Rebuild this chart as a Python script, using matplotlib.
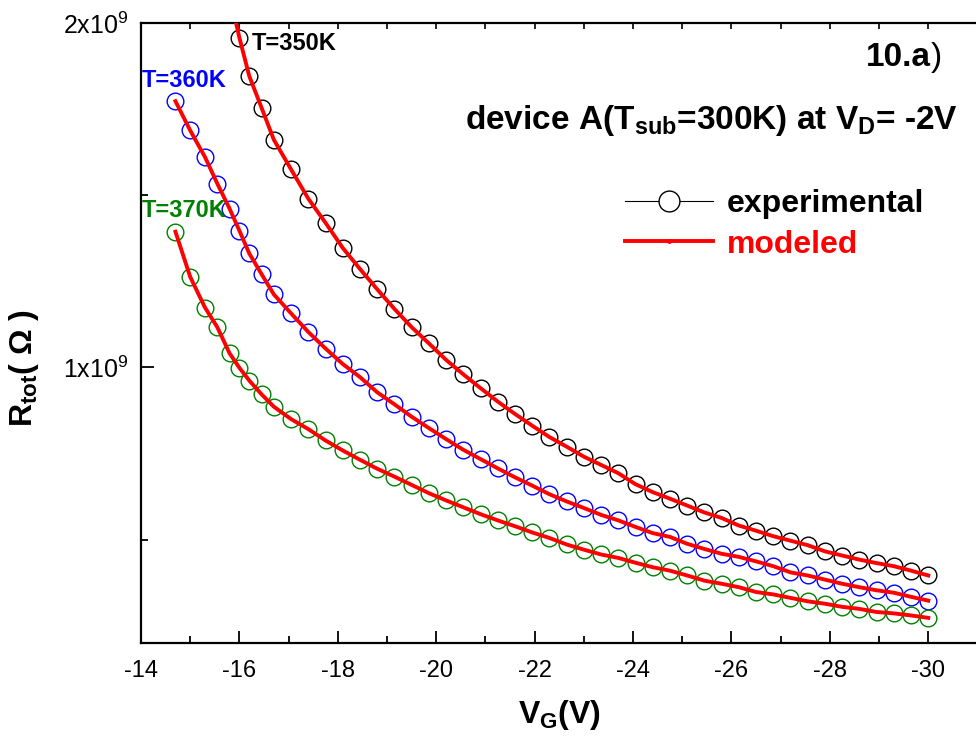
import matplotlib
matplotlib.use("Agg")
import matplotlib.pyplot as plt
from matplotlib.lines import Line2D
from matplotlib.ticker import FixedLocator, FuncFormatter
import numpy as np

plt.rcParams['font.family'] = ['Liberation Sans', 'DejaVu Sans']
plt.rcParams['mathtext.default'] = 'regular'

# ---------------- data ----------------
v_tail = [-16.7, -17.05, -17.4, -17.75, -18.1, -18.45, -18.8, -19.15, -19.5, -19.85,
          -20.2, -20.55, -20.9, -21.25, -21.6, -21.95, -22.3, -22.65, -23.0, -23.35,
          -23.7, -24.05, -24.4, -24.75, -25.1, -25.45, -25.8, -26.15, -26.5, -26.85,
          -27.2, -27.55, -27.9, -28.25, -28.6, -28.95, -29.3, -29.65, -30.0]
vg_350 = [-16.0, -16.2, -16.45] + v_tail
vg_360 = [-14.7, -15.0, -15.3, -15.55, -15.8, -16.0, -16.2, -16.45] + v_tail
vg_370 = [-14.7, -15.0, -15.3, -15.55, -15.8, -16.0, -16.2, -16.45] + v_tail

# R_tot in units of 1e9 Ohm
r_350 = [1.957, 1.846, 1.754, 1.661, 1.575, 1.490, 1.420, 1.347, 1.286, 1.227,
         1.170, 1.117, 1.070, 1.022, 0.980, 0.940, 0.901, 0.865, 0.831, 0.798,
         0.770, 0.741, 0.717, 0.693, 0.661, 0.638, 0.619, 0.599, 0.579, 0.563,
         0.541, 0.526, 0.510, 0.497, 0.484, 0.466, 0.454, 0.442, 0.432, 0.423,
         0.410, 0.396]
r_360 = [1.773, 1.688, 1.611, 1.534, 1.461, 1.397, 1.331, 1.271, 1.212, 1.157,
         1.103, 1.055, 1.010, 0.972, 0.928, 0.893, 0.857, 0.824, 0.792, 0.761,
         0.734, 0.707, 0.681, 0.657, 0.632, 0.611, 0.592, 0.572, 0.556, 0.537,
         0.519, 0.508, 0.488, 0.473, 0.459, 0.450, 0.437, 0.423, 0.405, 0.396,
         0.384, 0.372, 0.362, 0.353, 0.346, 0.334, 0.323]
r_370 = [1.394, 1.263, 1.174, 1.117, 1.041, 0.999, 0.962, 0.922, 0.886, 0.850,
         0.821, 0.788, 0.759, 0.732, 0.706, 0.683, 0.659, 0.635, 0.614, 0.594,
         0.574, 0.556, 0.539, 0.521, 0.505, 0.486, 0.471, 0.457, 0.447, 0.433,
         0.420, 0.410, 0.396, 0.381, 0.372, 0.362, 0.348, 0.341, 0.331, 0.321,
         0.314, 0.305, 0.299, 0.290, 0.286, 0.280, 0.273]

# modeled curves (red) follow the data; 350K fit continues above the frame
model_vg_350 = [-15.9] + vg_350
model_r_350 = [2.02] + r_350

series_colors = ['black', 'blue', 'green']
temp_labels = ['T=350K', 'T=360K', 'T=370K']

# ---------------- figure ----------------
W, H = 976, 747
fig = plt.figure(figsize=(W / 100, H / 100), dpi=100)
x0, x1, y0, y1 = 141, 976, 23, 643
ax = fig.add_axes([x0 / W, 1 - y1 / H, (x1 - x0) / W, (y1 - y0) / H])

def px(x, y):
    return x / W, 1 - y / H

sc = 1e9
exp_sets = [(vg_350, r_350), (vg_360, r_360), (vg_370, r_370)]
for (v, r), c in zip(exp_sets, series_colors):
    ax.plot(v, np.array(r) * sc, ls='none', marker='o', ms=12, mfc='none',
            mec=c, mew=1.0, zorder=2, clip_on=False)

model_sets = [(model_vg_350, model_r_350), (vg_360, r_360), (vg_370, r_370)]
for v, r in model_sets:
    ax.plot(v, np.array(r) * sc, color='red', lw=2.8, zorder=3)

ax.set_xlim(-14, -30.97)
ax.set_ylim(0.2e9, 2.0e9)

ax.xaxis.set_major_locator(FixedLocator([-14, -16, -18, -20, -22, -24, -26, -28, -30]))
ax.xaxis.set_minor_locator(FixedLocator([-15, -17, -19, -21, -23, -25, -27, -29]))
ax.yaxis.set_major_locator(FixedLocator([1e9, 2e9]))
ax.yaxis.set_minor_locator(FixedLocator([0.5e9, 1.5e9]))
ax.yaxis.set_major_formatter(FuncFormatter(lambda v, p: f"{int(round(v / 1e9))}x10$^9$"))
ax.xaxis.set_major_formatter(FuncFormatter(lambda v, p: f"{int(v)}"))

ax.tick_params(axis='x', which='major', direction='in', length=9, width=1.3,
               labelsize=17, pad=12, top=False)
ax.tick_params(axis='x', which='minor', direction='in', length=5, width=1.3, top=False)
ax.tick_params(axis='y', which='major', direction='in', length=9, width=1.3,
               labelsize=18, pad=9, right=False)
ax.tick_params(axis='y', which='minor', direction='in', length=5, width=1.3, right=False)

# top axis short ticks every 1 V
sec = ax.secondary_xaxis('top')
sec.xaxis.set_major_locator(FixedLocator(list(range(-14, -31, -1))))
sec.tick_params(direction='in', length=4, width=1.2, labeltop=False)
sec.spines['top'].set_visible(False)

for s in ['left', 'bottom', 'top']:
    ax.spines[s].set_linewidth(1.6)
ax.spines['right'].set_visible(False)

# temperature labels
fig.text(*px(252, 50), temp_labels[0], color=series_colors[0], fontsize=17,
         fontweight='bold', ha='left', va='baseline')
fig.text(*px(142, 87), temp_labels[1], color=series_colors[1], fontsize=17,
         fontweight='bold', ha='left', va='baseline')
fig.text(*px(142, 217), temp_labels[2], color=series_colors[2], fontsize=17,
         fontweight='bold', ha='left', va='baseline')

fig.text(*px(931, 66), "10.a", fontsize=24, fontweight='bold', ha='right', va='baseline')
fig.text(*px(931, 66), ")", fontsize=24, ha='left', va='baseline')
fig.text(*px(958, 129), "device A(T$_{sub}$=300K) at V$_D$= -2V", fontsize=24,
         fontweight='bold', ha='right', va='baseline')

# axis labels
fig.text(*px(560, 723), "V$_G$(V)", fontsize=23, fontweight='bold',
         ha='center', va='baseline')
fig.text(*px(24, 368), "R$_{tot}$( \u03a9 )", fontsize=23, fontweight='bold',
         ha='center', va='center', rotation=90)

# legend
handles = [Line2D([], [], color='black', lw=0.8, marker='o', ms=15, mfc='white',
                  mec='black', mew=1.0),
           Line2D([], [], color='red', lw=2.8, marker='.', ms=5)]
leg = fig.legend(handles, ['experimental', 'modeled'], loc='upper left',
                 bbox_to_anchor=px(625, 189), frameon=False, borderpad=0,
                 borderaxespad=0, handlelength=2.75, handletextpad=0.45,
                 labelspacing=0.33, prop={'size': 23, 'weight': 'bold'},
                 labelcolor=['black', 'red'])

fig.savefig("out.png", dpi=100)
